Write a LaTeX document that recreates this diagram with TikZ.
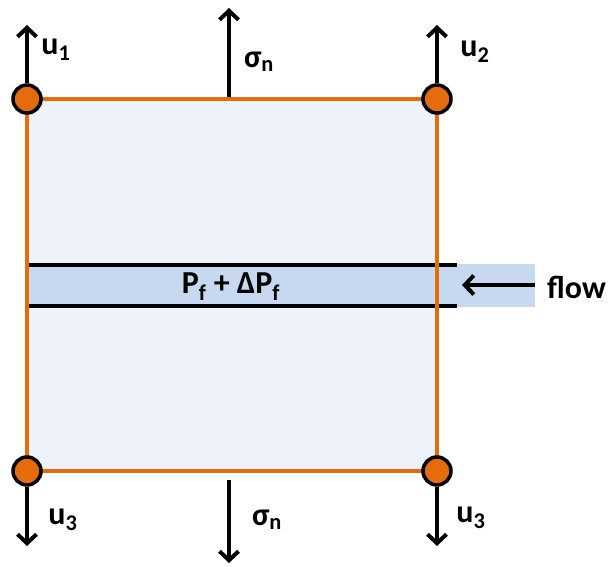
\documentclass[tikz,border=0pt]{standalone}
\usepackage{fontspec}
\setmainfont{Carlito}
\usetikzlibrary{arrows.meta,calc}
\definecolor{EdgeClr}{RGB}{228,108,10}
\definecolor{BlockClr}{RGB}{238,243,250}
\definecolor{FlowClr}{RGB}{198,217,240}

\begin{document}
\begin{tikzpicture}[x=1pt,y=-1pt,
  Load/.style={line width=4pt,-{Straight Barb[length=9pt,width=19pt]}},
  Lbl/.style={font=\fontsize{32}{34}\selectfont\bfseries,inner sep=0pt},
  Corner/.style={circle,draw=black,line width=3.5pt,fill=EdgeClr,minimum size=28pt,inner sep=0pt}]
\useasboundingbox (0,0) rectangle (610,567);

% block corners
\coordinate (A) at (27,99);
\coordinate (B) at (437,99);
\coordinate (C) at (437,471);
\coordinate (D) at (27,471);

% block and fracture
\fill[BlockClr] (A) rectangle (C);
\fill[FlowClr] (27,264) rectangle (535,307);
\draw[line width=3.5pt] (27,265) -- (457,265);
\draw[line width=3.5pt] (27,306) -- (457,306);
\draw[EdgeClr,line width=4.5pt] (A) -- (B) -- (C) -- (D) -- cycle;

\node[Corner] (nA) at (A) {};
\node[Corner] (nB) at (B) {};
\node[Corner] (nC) at (C) {};
\node[Corner] (nD) at (D) {};

% loads
\coordinate (TopMid) at (229,97);
\coordinate (BotMid) at (229,480);
\draw[Load] (nA) -- (27,25);
\draw[Load] (TopMid) -- (229,8);
\draw[Load] (nB) -- (437,25);
\draw[Load] (nD) -- (27,546);
\draw[Load] (BotMid) -- (229,563);
\draw[Load] (nC) -- (437,546);
\coordinate (FlowIn) at (535,285);
\draw[Load] (FlowIn) -- (462,285);

% labels
\node[Lbl] (u1) at (56,50) {u\textsubscript{1}};
\node[Lbl] (sTop) at (259,62) {σ\textsubscript{n}};
\node[Lbl] (u2) at (475,52) {u\textsubscript{2}};
\node[Lbl] (u3L) at (63,520) {u\textsubscript{3}};
\node[Lbl] (sBot) at (267,520) {σ\textsubscript{n}};
\node[Lbl] (u3R) at (471,518) {u\textsubscript{3}};
\node[Lbl] (pf) at (231,287) {P\textsubscript{f} + ΔP\textsubscript{f}};
\node[Lbl,anchor=west] (flow) at (547,287) {flow};

\end{tikzpicture}
\end{document}
